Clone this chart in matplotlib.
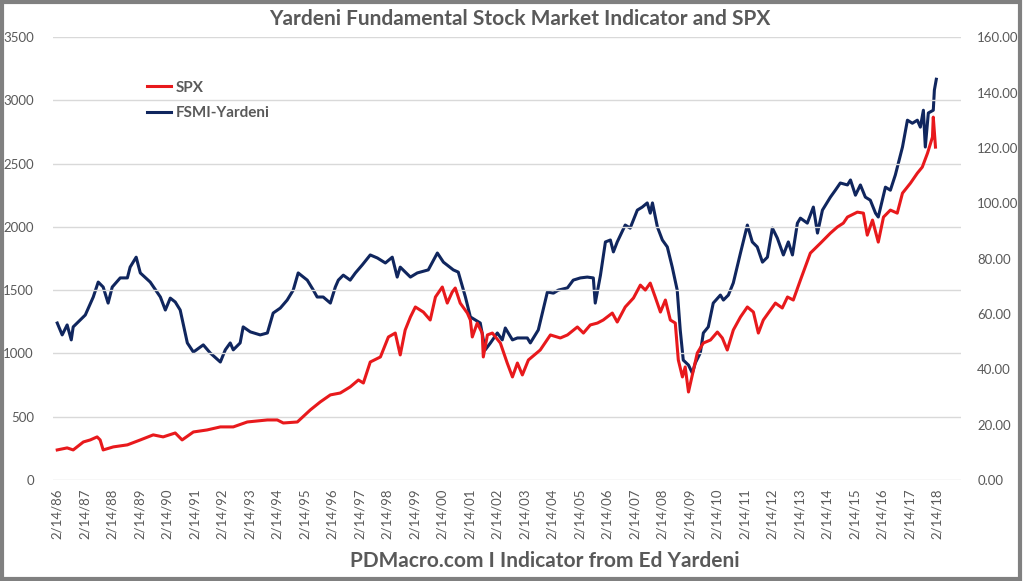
import matplotlib.pyplot as plt
from matplotlib.patches import Rectangle

# SPX (left axis), decimal years
spx_year = [1986.12, 1986.48, 1986.70, 1987.07, 1987.32, 1987.57, 1987.68, 1987.79, 1988.16,
            1988.67, 1989.14, 1989.61, 1989.97, 1990.41, 1990.66, 1991.07, 1991.57, 1992.05,
            1992.52, 1993.03, 1993.76, 1994.12, 1994.34, 1994.85, 1995.32, 1995.68, 1996.05,
            1996.41, 1996.77, 1997.07, 1997.25, 1997.50, 1997.87, 1998.16, 1998.41, 1998.59,
            1998.77, 1998.96, 1999.14, 1999.43, 1999.68, 1999.87, 2000.12, 2000.30, 2000.48,
            2000.59, 2000.77, 2001.03, 2001.14, 2001.21, 2001.39, 2001.57, 2001.61, 2001.76,
            2001.94, 2002.23, 2002.48, 2002.67, 2002.85, 2003.03, 2003.25, 2003.68, 2004.05,
            2004.41, 2004.67, 2005.03, 2005.25, 2005.50, 2005.76, 2005.97, 2006.30, 2006.48,
            2006.77, 2007.07, 2007.32, 2007.50, 2007.68, 2007.86, 2008.05, 2008.23, 2008.41,
            2008.59, 2008.70, 2008.85, 2008.95, 2009.07, 2009.21, 2009.39, 2009.61, 2009.87,
            2010.12, 2010.30, 2010.48, 2010.70, 2010.96, 2011.21, 2011.43, 2011.61, 2011.79,
            2012.05, 2012.23, 2012.48, 2012.67, 2012.88, 2013.14, 2013.50, 2013.87, 2014.23,
            2014.48, 2014.70, 2014.85, 2015.21, 2015.43, 2015.57, 2015.76, 2015.97, 2016.16,
            2016.41, 2016.66, 2016.85, 2017.14, 2017.39, 2017.57, 2017.76, 2017.94, 2017.97,
            2018.05]
spx = [237, 253, 237, 300, 316, 340, 316, 237, 261,
       277, 316, 356, 340, 371, 316, 379, 395, 419,
       419, 458, 474, 474, 450, 458, 553, 616, 672,
       687, 735, 790, 766, 932, 972, 1130, 1161, 988,
       1185, 1288, 1367, 1327, 1264, 1446, 1525, 1398, 1485,
       1517, 1398, 1319, 1264, 1130, 1240, 1161, 972, 1146,
       1161, 1082, 924, 814, 924, 830, 948, 1027, 1146,
       1122, 1146, 1209, 1161, 1225, 1240, 1264, 1319, 1248,
       1367, 1438, 1540, 1501, 1556, 1446, 1327, 1422, 1264,
       1240, 948, 814, 893, 695, 830, 1003, 1082, 1106,
       1169, 1122, 1027, 1185, 1288, 1367, 1327, 1161, 1264,
       1343, 1398, 1359, 1446, 1422, 1580, 1793, 1872, 1951,
       1999, 2030, 2078, 2117, 2109, 1935, 2054, 1880, 2078,
       2133, 2109, 2267, 2346, 2425, 2473, 2583, 2710, 2868,
       2631]

# FSMI-Yardeni (right axis)
fsmi_year = [1986.12, 1986.30, 1986.48, 1986.63, 1986.70, 1987.03, 1987.14, 1987.43, 1987.61,
             1987.79, 1987.97, 1988.12, 1988.41, 1988.67, 1988.77, 1988.99, 1989.14, 1989.50,
             1989.87, 1990.05, 1990.23, 1990.41, 1990.59, 1990.85, 1991.07, 1991.43, 1991.68,
             1992.05, 1992.23, 1992.41, 1992.52, 1992.77, 1992.88, 1993.14, 1993.50, 1993.76,
             1993.97, 1994.23, 1994.48, 1994.70, 1994.88, 1995.21, 1995.43, 1995.57, 1995.79,
             1996.05, 1996.23, 1996.34, 1996.52, 1996.77, 1996.96, 1997.21, 1997.50, 1997.76,
             1998.05, 1998.30, 1998.48, 1998.59, 1998.96, 1999.21, 1999.61, 1999.94, 2000.16,
             2000.52, 2000.70, 2000.96, 2001.14, 2001.50, 2001.68, 2001.87, 2002.12, 2002.30,
             2002.41, 2002.67, 2002.85, 2003.21, 2003.32, 2003.61, 2003.94, 2004.16, 2004.34,
             2004.67, 2004.88, 2005.14, 2005.39, 2005.61, 2005.68, 2005.87, 2006.05, 2006.23,
             2006.34, 2006.48, 2006.77, 2006.95, 2007.21, 2007.39, 2007.57, 2007.68, 2007.76,
             2007.94, 2008.12, 2008.30, 2008.48, 2008.66, 2008.77, 2008.88, 2009.07, 2009.21,
             2009.32, 2009.50, 2009.61, 2009.79, 2009.97, 2010.23, 2010.34, 2010.52, 2010.70,
             2010.96, 2011.21, 2011.39, 2011.57, 2011.76, 2011.94, 2012.12, 2012.30, 2012.52,
             2012.70, 2012.85, 2013.03, 2013.14, 2013.39, 2013.61, 2013.76, 2013.94, 2014.23,
             2014.41, 2014.59, 2014.85, 2014.96, 2015.14, 2015.32, 2015.50, 2015.68, 2015.87,
             2015.97, 2016.23, 2016.41, 2016.59, 2016.85, 2017.03, 2017.21, 2017.39, 2017.50,
             2017.61, 2017.68, 2017.79, 2017.97, 2018.01, 2018.08]
fsmi = [56.7, 52.4, 56.0, 50.6, 55.3, 58.5, 59.6, 66.1, 71.5,
        69.7, 63.9, 69.7, 73.0, 73.0, 76.9, 80.5, 74.8, 71.5,
        66.1, 61.4, 65.7, 64.3, 61.4, 49.5, 46.2, 48.8, 45.9,
        42.6, 47.0, 49.5, 47.0, 49.5, 55.3, 53.5, 52.4, 53.1,
        60.3, 62.1, 65.0, 68.6, 74.8, 72.2, 68.6, 66.1, 66.1,
        63.9, 69.7, 72.2, 74.0, 72.2, 74.8, 77.7, 81.3, 80.2,
        78.4, 80.5, 73.3, 76.9, 73.3, 74.8, 75.9, 82.0, 78.7,
        75.9, 75.1, 66.1, 58.9, 56.7, 47.0, 49.5, 53.1, 50.6,
        54.9, 50.6, 51.3, 51.3, 49.5, 54.2, 67.9, 67.5, 68.6,
        69.4, 72.2, 73.0, 73.3, 73.0, 63.9, 74.0, 86.0, 86.7,
        82.4, 86.0, 92.1, 91.0, 97.5, 98.6, 100.1, 96.4, 100.1,
        91.4, 86.7, 84.2, 76.9, 68.6, 54.2, 43.3, 41.5, 38.6,
        42.3, 45.9, 53.1, 55.3, 63.9, 66.8, 65.0, 66.8, 71.2,
        82.0, 92.1, 86.0, 84.2, 78.7, 80.5, 91.0, 87.4, 81.3,
        86.0, 81.3, 92.8, 94.6, 92.8, 98.6, 89.2, 97.5, 102.2,
        104.7, 107.3, 106.6, 108.4, 102.9, 106.6, 102.2, 101.1, 96.4,
        95.0, 105.8, 104.7, 110.2, 120.3, 130.0, 128.9, 130.0, 127.5,
        133.6, 120.3, 132.6, 133.6, 140.9, 144.8]

tick_years = list(range(1986, 2019))
tick_labels = ["2/14/%02d" % (y % 100) for y in tick_years]

gray = "#595959"
plt.rcParams['font.family'] = ['Lato', 'DejaVu Sans']

fig = plt.figure(figsize=(10.24, 5.81), dpi=100)
ax = fig.add_axes([0.052, 0.174, 0.886, 0.762])
ax2 = ax.twinx()

ax.plot(spx_year, spx, color="#e8191c", lw=2.2, zorder=3, label="SPX")
ax2.plot(fsmi_year, fsmi, color="#10265e", lw=2.2, zorder=3, label="FSMI-Yardeni")

ax.set_ylim(0, 3500)
ax.set_yticks(range(0, 3501, 500))
ax2.set_ylim(0, 160)
ax2.set_yticks(range(0, 161, 20))
ax2.set_yticklabels(["%.2f" % v for v in range(0, 161, 20)])
ax.set_xlim(1985.975, 2018.96)
ax.set_xticks([y + 0.12 for y in tick_years])
ax.set_xticklabels(tick_labels, rotation=90)

ax.grid(axis="y", color="#d9d9d9", lw=1)
ax.set_axisbelow(True)
for a in (ax, ax2):
    for s in a.spines.values():
        s.set_visible(False)
    a.tick_params(length=0, labelsize=9.5, labelcolor=gray)
ax.tick_params(axis="y", pad=14)
ax.tick_params(axis="x", pad=6)
ax2.tick_params(axis="y", pad=12)
ax.set_zorder(ax2.get_zorder() + 1)
ax.patch.set_visible(False)

h1, l1 = ax.get_legend_handles_labels()
h2, l2 = ax2.get_legend_handles_labels()
leg = fig.legend(h1 + h2, l1 + l2, loc="upper left", bbox_to_anchor=(0.13, 0.885),
                 frameon=False, handlelength=1.6, handletextpad=0.3, labelspacing=0.75,
                 prop={"weight": "bold", "size": 11})
for t in leg.get_texts():
    t.set_color(gray)

fig.text(0.508, 0.968, "Yardeni Fundamental Stock Market Indicator and SPX", ha="center",
         va="center", fontsize=15, fontweight="bold", color=gray)
fig.text(0.532, 0.035, "PDMacro.com I Indicator from Ed Yardeni", ha="center",
         va="center", fontsize=15, fontweight="bold", color=gray)

fig.patches.append(Rectangle((0.002, 0.004), 0.994, 0.992, transform=fig.transFigure,
                             fill=False, edgecolor="#808080", lw=3))

fig.savefig("out.png", dpi=100)
